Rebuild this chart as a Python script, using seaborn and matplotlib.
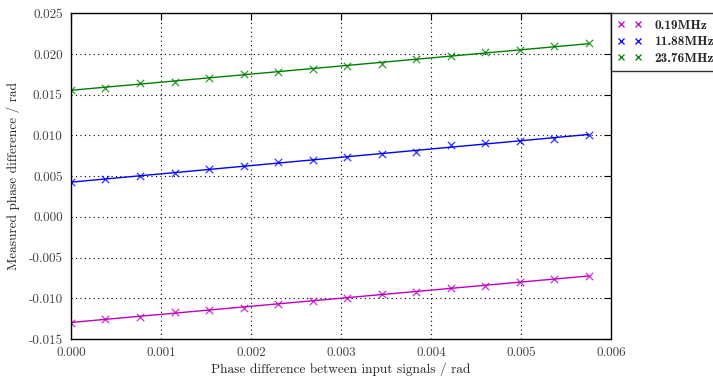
import numpy as np
import pandas as pd
import matplotlib
matplotlib.use("Agg")
import matplotlib.pyplot as plt
import seaborn as sns
from matplotlib.ticker import FormatStrFormatter, MultipleLocator

# Input phase difference (rad) for each measurement step
phase_in = [0.0, 0.000383, 0.000767, 0.001150, 0.001534, 0.001917, 0.002301, 0.002684,
            0.003068, 0.003451, 0.003835, 0.004218, 0.004602, 0.004985, 0.005369, 0.005752]

# Measured phase difference (rad) at each frequency
meas_019 = [-0.01300, -0.01254, -0.01226, -0.01172, -0.01147, -0.01115, -0.01066, -0.01033,
            -0.00993, -0.00951, -0.00919, -0.00877, -0.00845, -0.00800, -0.00767, -0.00722]
meas_1188 = [0.00423, 0.00460, 0.00506, 0.00540, 0.00584, 0.00630, 0.00670, 0.00700,
             0.00730, 0.00770, 0.00800, 0.00880, 0.00910, 0.00930, 0.00960, 0.01010]
meas_2376 = [0.01562, 0.01586, 0.01648, 0.01660, 0.01701, 0.01751, 0.01784, 0.01821,
             0.01849, 0.01883, 0.01936, 0.01977, 0.02019, 0.02047, 0.02096, 0.02130]

labels = ["0.19MHz", "11.88MHz", "23.76MHz"]
colors = [(0.75, 0, 0.75), (0, 0, 1), (0, 0.5, 0)]

sns.set_theme(style="white")
plt.rcParams["font.family"] = ["cmr10", "DejaVu Serif"]
plt.rcParams["axes.formatter.use_mathtext"] = True
plt.rcParams["mathtext.fontset"] = "cm"

fig = plt.figure(figsize=(7.13, 3.80), dpi=100)
ax = fig.add_axes([0.0996, 0.108, 0.7574, 0.857])

for series, lab, col in zip([meas_019, meas_1188, meas_2376], labels, colors):
    df = pd.DataFrame({"x": phase_in, "y": series})
    sns.regplot(data=df, x="x", y="y", ax=ax, ci=None, truncate=True,
                marker="x", color=col,
                scatter_kws={"s": 28, "linewidths": 0.9},
                line_kws={"lw": 1.0})
    ax.plot([], [], ls="none", marker="x", color=col, ms=5, mew=0.9, label=lab)

ax.set_xlim(0, 0.006)
ax.set_ylim(-0.015, 0.025)
ax.xaxis.set_major_locator(MultipleLocator(0.001))
ax.yaxis.set_major_locator(MultipleLocator(0.005))
ax.xaxis.set_major_formatter(FormatStrFormatter("%.3f"))
ax.yaxis.set_major_formatter(FormatStrFormatter("%.3f"))
ax.grid(True, color="black", linestyle=(0, (1, 3)), linewidth=0.8)
ax.tick_params(direction="in", top=True, right=True, length=5, width=0.8,
               labelsize=9.5, colors="black", labelcolor="#444444", pad=6)
for s in ax.spines.values():
    s.set_color("black")
    s.set_linewidth(1.0)

ax.set_xlabel("Phase difference between input signals / rad", fontsize=9.6, labelpad=2)
ax.set_ylabel("Measured phase difference / rad", fontsize=9.6, labelpad=6)

leg = ax.legend(loc="upper left", bbox_to_anchor=(1.0, 1.0), numpoints=2,
                prop={"family": "cmb10", "size": 9.6}, frameon=True, fancybox=False,
                borderaxespad=0, handlelength=1.9, handletextpad=0.9,
                borderpad=0.45, labelspacing=0.33)
leg.get_frame().set_edgecolor("black")
leg.get_frame().set_linewidth(1.0)

fig.savefig("out.png", dpi=100)
